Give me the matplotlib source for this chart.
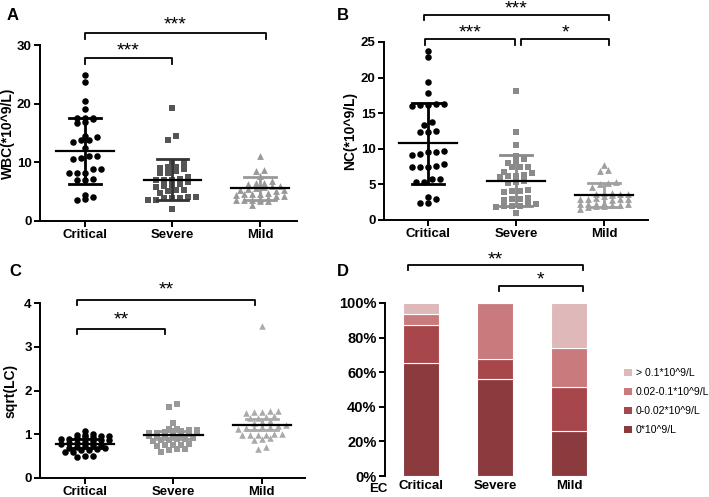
import numpy as np
import matplotlib
matplotlib.use("Agg")
import matplotlib.pyplot as plt
from matplotlib.patches import Patch

plt.rcParams['font.family'] = ['Liberation Sans', 'DejaVu Sans']

# ---------------- data ----------------
groups = ["Critical", "Severe", "Mild"]

wbc_critical = [24.9, 23.7, 20.5, 19.0, 17.5, 17.5, 17.6, 17.4, 16.9, 16.6, 14.3, 13.5, 13.8,
                13.8, 14.4, 12.4, 11.1, 10.5, 11.1, 10.7, 8.8, 8.1, 8.1, 8.1, 8.8, 6.9, 6.9, 7.1,
                4.4, 4.0, 3.5, 3.7]
wbc_severe = [19.2, 14.4, 13.8, 10.0, 9.8, 9.2, 8.8, 8.5, 8.2, 9.0, 9.1, 8.1, 7.5, 7.0, 7.2, 6.9,
              7.0, 6.6, 6.0, 6.1, 6.3, 5.8, 5.2, 5.0, 4.8, 5.3, 4.0, 3.8, 4.0, 3.9, 3.8, 3.6, 3.5, 2.0]
wbc_mild = [11.0, 8.5, 8.7, 7.6, 6.4, 6.7, 6.0, 6.2, 6.0, 5.8, 6.5, 5.3, 5.5, 5.2, 5.0, 5.4, 4.5,
            4.6, 4.4, 4.8, 4.3, 4.2, 4.5, 3.6, 3.5, 3.7, 3.4, 3.6, 3.3, 3.8, 2.6]
wbc_mean = [11.9, 7.0, 5.5]
wbc_sd = [5.6, 3.5, 1.95]

nc_critical = [23.7, 22.9, 19.4, 17.9, 16.3, 16.1, 16.0, 16.2, 16.3, 13.7, 13.3, 12.5, 12.3, 12.4,
               9.6, 9.1, 9.7, 9.6, 9.3, 7.6, 7.4, 7.5, 7.9, 7.4, 5.7, 5.3, 5.4, 5.7, 2.9, 2.4, 2.4, 3.3]
nc_severe = [18.1, 12.3, 10.5, 9.0, 8.2, 8.0, 8.6, 7.5, 7.4, 7.4, 6.6, 6.8, 6.3, 6.2, 6.0, 6.2,
             5.3, 5.2, 5.5, 4.1, 4.2, 4.1, 4.0, 3.0, 2.9, 3.1, 2.8, 2.3, 2.3, 2.0, 1.8, 1.9, 2.0, 1.0]
nc_mild = [7.7, 7.0, 6.9, 5.3, 5.2, 5.1, 4.6, 3.8, 3.7, 3.6, 3.8, 3.5, 3.7, 3.4, 3.0, 2.9, 3.0,
           2.8, 3.1, 2.9, 2.2, 2.1, 2.3, 2.2, 2.1, 2.2, 2.0, 1.9, 1.8, 2.4, 1.6]
nc_mean = [10.8, 5.5, 3.5]
nc_sd = [5.7, 3.6, 1.7]

lc_critical = [1.07, 0.97, 0.95, 0.94, 0.96, 1.0, 0.93, 0.97, 0.88, 0.87, 0.9, 0.86, 0.88, 0.85,
               0.82, 0.8, 0.78, 0.8, 0.75, 0.76, 0.72, 0.7, 0.68, 0.67, 0.66, 0.64, 0.63, 0.6,
               0.58, 0.5, 0.49, 0.48]
lc_severe = [1.69, 1.63, 1.26, 1.12, 1.1, 1.08, 1.1, 1.08, 1.12, 1.03, 1.02, 1.04, 1.0, 1.03, 0.97,
             0.98, 0.96, 0.99, 0.95, 0.9, 0.87, 0.88, 0.86, 0.89, 0.85, 0.78, 0.76, 0.74, 0.75,
             0.72, 0.65, 0.63, 0.66, 0.6]
lc_mild = [3.48, 1.52, 1.5, 1.5, 1.48, 1.52, 1.4, 1.38, 1.36, 1.42, 1.28, 1.26, 1.3, 1.18, 1.16,
           1.15, 1.17, 1.14, 1.2, 1.12, 1.0, 0.98, 0.97, 1.0, 0.98, 0.97, 0.88, 0.86, 0.9, 0.7, 0.65]
lc_mean = [0.78, 0.97, 1.22]
lc_err = [0.1, 0.09, 0.13]

ec_labels = ["0*10^9/L", "0-0.02*10^9/L", "0.02-0.1*10^9/L", "> 0.1*10^9/L"]
ec_pct = {
    "0*10^9/L":        [65.6, 55.9, 25.8],
    "0-0.02*10^9/L":   [21.9, 11.8, 25.8],
    "0.02-0.1*10^9/L": [6.25, 32.3, 22.6],
    "> 0.1*10^9/L":    [6.25, 0.0, 25.8],
}

# ---------------- style ----------------
ec_colors = ["#8b3a3e", "#a8474b", "#c87a7d", "#dfb8ba"]
W, H = 709, 497
fig = plt.figure(figsize=(W / 100, H / 100), dpi=100)


def axes_px(l, r, b, t):
    return fig.add_axes([l / W, 1 - b / H, (r - l) / W, (b - t) / H])


def style_axes(ax):
    for s in ['top', 'right']:
        ax.spines[s].set_visible(False)
    for s in ['left', 'bottom']:
        ax.spines[s].set_linewidth(1.4)
    ax.tick_params(width=1.4, length=4, labelsize=9.5, pad=2)
    for lab in ax.get_xticklabels() + ax.get_yticklabels():
        lab.set_fontweight('bold')


def swarm(ax, vals, step_px, row_px, max_n=7):
    """Prism-like row arrangement: points close in y share a centred row."""
    vals = np.asarray(vals, float)
    ypx = ax.transData.transform(np.column_stack([np.zeros(len(vals)), vals]))[:, 1]
    x0 = ax.transData.transform([[0, 0]])[0, 0]
    x1 = ax.transData.transform([[1, 0]])[0, 0]
    step = step_px / (x1 - x0)
    order = np.argsort(vals)
    rows, cur = [], [order[0]]
    for i in order[1:]:
        if ypx[i] - ypx[cur[0]] < row_px and len(cur) < max_n:
            cur.append(i)
        else:
            rows.append(cur)
            cur = [i]
    rows.append(cur)
    offs = np.zeros(len(vals))
    prev_n = 0
    for r in rows:
        n = len(r)
        shift = 0.5 if (n % 2) == (prev_n % 2) and n > 1 and prev_n > 1 else 0.0
        shift = 0.0
        for k, i in enumerate(r):
            offs[i] = (k - (n - 1) / 2 + shift) * step
        prev_n = n
    return offs


def scatter_panel(ax, data, means, errs, markers, colors, errcolors, sizes, row_px=5.0):
    for i, vals in enumerate(data):
        offs = swarm(ax, vals, 8.0, row_px)
        ax.scatter(i + offs, vals, marker=markers[i], s=sizes[i], color=colors[i],
                   linewidths=0, zorder=3)
        m, e = means[i], errs[i]
        ax.plot([i, i], [m - e, m + e], color=errcolors[i], lw=2.0, zorder=4,
                solid_capstyle='butt')
        ax.plot([i - 0.18, i + 0.18], [m + e, m + e], color=errcolors[i], lw=2.0, zorder=4)
        ax.plot([i - 0.18, i + 0.18], [m - e, m - e], color=errcolors[i], lw=2.0, zorder=4)
        ax.plot([i - 0.33, i + 0.33], [m, m], color='black', lw=1.6, zorder=5)


def bracket(ax, x1, x2, y, h, text, ty):
    ax.plot([x1, x1, x2, x2], [y - h, y, y, y - h], color='black', lw=1.3, clip_on=False)
    ax.text((x1 + x2) / 2, ty, text, ha='center', va='baseline', fontsize=14, clip_on=False)


# ---------------- Panel A ----------------
axA = axes_px(40, 297, 220.7, 45)
axA.set_xlim(-0.51, 2.42)
axA.set_ylim(0, 30)
axA.set_yticks([0, 10, 20, 30])
axA.set_xticks([0, 1, 2])
axA.set_xticklabels(groups)
style_axes(axA)
axA.set_ylabel("WBC(*10^9/L)", fontsize=10, fontweight='bold', labelpad=1)
scatter_panel(axA, [wbc_critical, wbc_severe, wbc_mild], wbc_mean, wbc_sd,
              ['o', 's', '^'], ['black', '#555555', '#999999'],
              ['black', '#333333', '#999999'], [22, 20, 24])
bracket(axA, 0.0, 2.07, 32.0, 1.0, "***", 32.6)
bracket(axA, 0.0, 0.99, 27.7, 1.0, "***", 28.2)

# ---------------- Panel B ----------------
axB = axes_px(384, 648, 220, 42)
axB.set_xlim(-0.5, 2.5)
axB.set_ylim(0, 25)
axB.set_yticks([0, 5, 10, 15, 20, 25])
axB.set_xticks([0, 1, 2])
axB.set_xticklabels(groups)
style_axes(axB)
axB.set_ylabel("NC(*10^9/L)", fontsize=10, fontweight='bold', labelpad=3)
scatter_panel(axB, [nc_critical, nc_severe, nc_mild], nc_mean, nc_sd,
              ['o', 's', '^'], ['black', '#8a8a8a', '#a0a0a0'],
              ['black', '#8a8a8a', '#a0a0a0'], [22, 20, 24])
bracket(axB, -0.05, 2.06, 28.8, 0.7, "***", 29.0)
bracket(axB, -0.03, 0.99, 25.4, 0.8, "***", 25.6)
bracket(axB, 1.06, 2.06, 25.4, 0.8, "*", 25.6)

# ---------------- Panel C ----------------
axC = axes_px(40, 305, 477.7, 303.3)
axC.set_xlim(-0.51, 2.49)
axC.set_ylim(0, 4)
axC.set_yticks([0, 1, 2, 3, 4])
axC.set_xticks([0, 1, 2])
axC.set_xticklabels(groups)
style_axes(axC)
axC.set_ylabel("sqrt(LC)", fontsize=10, fontweight='bold', labelpad=5)
scatter_panel(axC, [lc_critical, lc_severe, lc_mild], lc_mean, lc_err,
              ['o', 's', '^'], ['black', '#999999', '#aaaaaa'],
              ['black', '#999999', '#aaaaaa'], [22, 16, 22], row_px=4.0)
bracket(axC, -0.09, 1.92, 4.08, 0.12, "**", 4.2)
bracket(axC, -0.09, 0.90, 3.41, 0.12, "**", 3.52)

# ---------------- Panel D ----------------
axD = axes_px(385, 606, 476, 303)
x = np.arange(len(groups))
bottom = np.zeros(len(groups))
for lab, col in zip(ec_labels, ec_colors):
    vals = np.array(ec_pct[lab])
    axD.bar(x, vals, 0.48, bottom=bottom, color=col, edgecolor='white', linewidth=0.8,
            label=lab, zorder=2)
    bottom += vals
axD.set_xlim(-0.49, 2.5)
axD.set_ylim(0, 100)
axD.set_yticks([0, 20, 40, 60, 80, 100])
axD.set_yticklabels([f"{v}%" for v in [0, 20, 40, 60, 80, 100]])
axD.set_xticks(x)
axD.set_xticklabels(groups)
style_axes(axD)
axD.spines['bottom'].set_visible(False)
axD.tick_params(axis='x', length=0, pad=3)
axD.tick_params(axis='y', labelsize=10.5)
bracket(axD, -0.18, 2.19, 122, 3, "**", 122.5)
bracket(axD, 1.05, 2.19, 110, 3, "*", 110.5)
fig.text(378 / W, 1 - 489 / H, "EC", ha='center', va='center', fontsize=9.5, fontweight='bold')

handles = [Patch(facecolor=c, edgecolor='none') for c in ec_colors][::-1]
labels = ec_labels[::-1]
fig.legend(handles, labels, loc='upper left', bbox_to_anchor=(620 / W, 1 - 364 / H),
           frameon=False, fontsize=7.6, handlelength=0.7, handleheight=0.7,
           handletextpad=0.4, labelspacing=0.85, borderaxespad=0)

# ---------------- panel letters ----------------
for letter, (px, py) in zip("ABCD", [(13, 15), (343, 15), (15, 272), (343, 272)]):
    fig.text(px / W, 1 - py / H, letter, ha='center', va='center', fontsize=12,
             fontweight='bold')

fig.savefig("out.png", dpi=100)
